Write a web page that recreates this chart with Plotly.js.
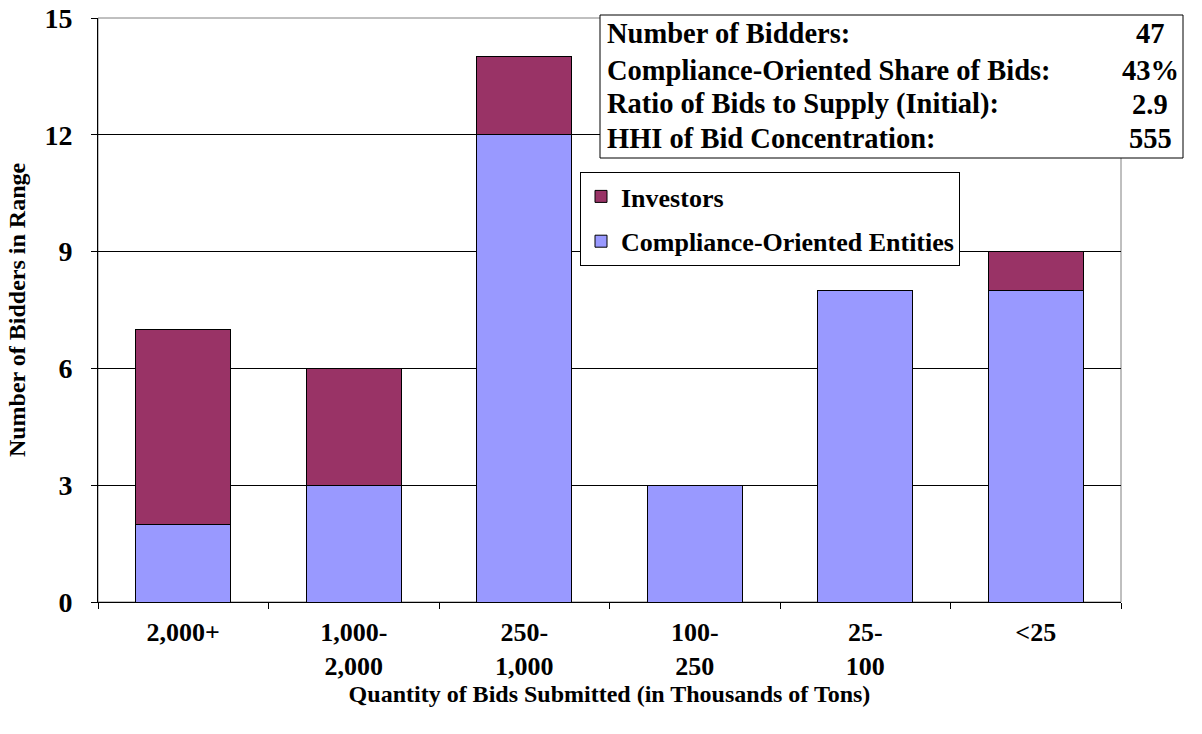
<!DOCTYPE html>
<html>
<head>
<meta charset="utf-8">
<script src="https://cdn.plot.ly/plotly-3.0.1.min.js"></script>
<style>html,body{margin:0;padding:0;background:#fff;}#chart{width:1202px;height:734px;}</style>
</head>
<body>
<div id="chart"></div>
<script>
const categories = ["2,000+", "1,000-<br>2,000", "250-<br>1,000", "100-<br>250", "25-<br>100", "<25"];
const compliance = [2, 3, 12, 3, 8, 8];
const investors = [5, 3, 2, 0, 0, 1];
const yTicks = [0, 3, 6, 9, 12, 15];
const statLabels = ["Number of Bidders:", "Compliance-Oriented Share of Bids:", "Ratio of Bids to Supply (Initial):", "HHI of Bid Concentration:"];
const statValues = ["47", "43%", "2.9", "555"];

const FONT = "Liberation Serif";
const L = 98, R = 1121, T = 18, B = 602, W = 1202, H = 734;
const pw = R - L, ph = B - T;
const px = x => (x - L) / pw;
const py = y => (B - y) / ph;

const traces = [
  {type: "bar", name: "Compliance-Oriented Entities", x: categories, y: compliance,
   marker: {color: "#9999FF", line: {color: "#000", width: 1}}, legendgroup: "c", legendrank: 2},
  {type: "bar", name: "Investors", x: categories, y: investors,
   marker: {color: "#993366", line: {color: "#000", width: 1}}, legendgroup: "i", legendrank: 1}
];

const rowY = [33, 70, 104, 138];
const annotations = [];
statLabels.forEach((t, i) => {
  annotations.push({xref: "paper", yref: "paper", x: px(605), y: py(rowY[i]), xanchor: "left", yanchor: "middle",
    text: t, showarrow: false, font: {family: FONT, size: 28.5, color: "#000", weight: "bold"}});
  annotations.push({xref: "paper", yref: "paper", x: px(1150), y: py(rowY[i]), xanchor: "center", yanchor: "middle",
    text: statValues[i], showarrow: false, font: {family: FONT, size: 28.5, color: "#000", weight: "bold"}});
});

const layout = {
  width: W, height: H,
  margin: {l: L, r: W - R, t: T, b: H - B},
  paper_bgcolor: "#fff", plot_bgcolor: "#fff",
  barmode: "stack", bargap: 0.44,
  font: {family: FONT, color: "#000", size: 20, weight: "bold"},
  showlegend: true,
  legend: {x: px(580), y: py(172), xanchor: "left", yanchor: "top",
    bgcolor: "#fff", bordercolor: "#000", borderwidth: 1,
    traceorder: "grouped", tracegroupgap: 8,
    font: {family: FONT, size: 26, color: "#000", weight: "bold"}},
  xaxis: {type: "category", showline: true, linecolor: "#000", linewidth: 1,
    ticks: "outside", tickson: "boundaries", ticklen: 6, tickcolor: "#000",
    tickfont: {family: FONT, size: 26, color: "#000", weight: "bold"}, ticklabelstandoff: 7,
    showgrid: false,
    title: {text: "Quantity of Bids Submitted (in Thousands of Tons)", standoff: 2,
      font: {family: FONT, size: 24, color: "#000", weight: "bold"}}},
  yaxis: {range: [0, 15], tickvals: yTicks, showline: true, linecolor: "#000", linewidth: 1,
    ticks: "outside", ticklen: 6, tickcolor: "#000", zeroline: false,
    showgrid: true, gridcolor: "#000", gridwidth: 1,
    tickfont: {family: FONT, size: 28, color: "#000", weight: "bold"}, ticklabelstandoff: 13,
    title: {text: "Number of Bidders in Range", standoff: 12,
      font: {family: FONT, size: 24, color: "#000", weight: "bold"}}},
  shapes: [
    {type: "rect", xref: "paper", yref: "paper", x0: 0, x1: 1, y0: 0, y1: 1,
     line: {color: "#808080", width: 1}, layer: "between"},
    {type: "rect", xref: "paper", yref: "paper", x0: px(600), x1: px(1183), y0: py(15), y1: py(158),
     line: {color: "#000", width: 1}, fillcolor: "#fff", layer: "above"}
  ],
  annotations: annotations
};

Plotly.newPlot("chart", traces, layout, {displayModeBar: false, staticPlot: true});
</script>
</body>
</html>
